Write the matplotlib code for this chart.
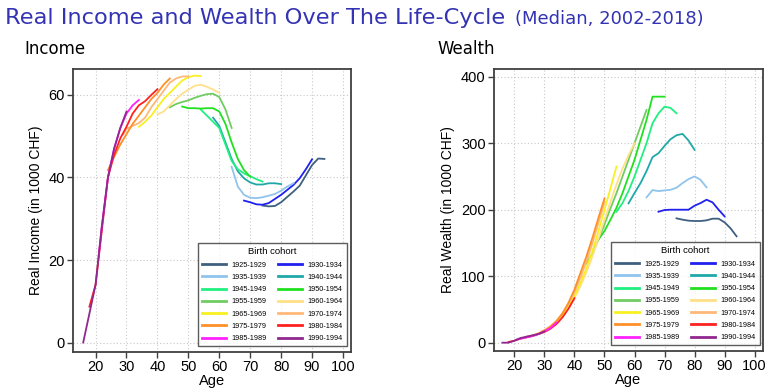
import matplotlib
matplotlib.use("Agg")
import matplotlib.pyplot as plt
from matplotlib.lines import Line2D

# ------------------------------------------------------------------ #
#  Data
# ------------------------------------------------------------------ #
cohorts = ["1925-1929", "1930-1934", "1935-1939", "1940-1944", "1945-1949",
           "1950-1954", "1955-1959", "1960-1964", "1965-1969", "1970-1974",
           "1975-1979", "1980-1984", "1985-1989", "1990-1994"]

# income (1000 CHF)
inc_1925_age = [74, 76, 78, 80, 82, 84, 86, 88, 90, 92, 94]
inc_1925 = [33.2, 33.0, 33.1, 34.0, 35.3, 36.6, 38.0, 40.5, 43.0, 44.6, 44.5]
inc_1930_age = [68, 70, 72, 74, 76, 78, 80, 82, 84, 86, 88, 90]
inc_1930 = [34.4, 34.0, 33.5, 33.4, 33.8, 34.8, 35.8, 37.0, 38.2, 39.8, 42.0, 44.4]
inc_1935_age = [64, 66, 68, 70, 72, 74, 76, 78, 80, 82, 84]
inc_1935 = [42.6, 37.8, 35.8, 35.1, 35.0, 35.2, 35.6, 36.0, 36.8, 37.8, 38.6]
inc_1940_age = [58, 60, 62, 64, 66, 68, 70, 72, 74, 76, 78, 80]
inc_1940 = [54.5, 52.5, 48.5, 44.5, 41.5, 39.8, 38.8, 38.3, 38.3, 38.6, 38.6, 38.4]
inc_1945_age = [54, 56, 58, 60, 62, 64, 66, 68, 70, 72, 74]
inc_1945 = [56.5, 55.0, 53.5, 52.0, 48.0, 44.0, 42.0, 41.0, 40.3, 39.6, 39.0]
inc_1950_age = [48, 50, 52, 54, 56, 58, 60, 62, 64, 66, 68, 70]
inc_1950 = [57.2, 56.8, 56.8, 56.7, 56.8, 56.8, 56.0, 53.0, 48.5, 44.5, 41.8, 40.2]
inc_1955_age = [44, 46, 48, 50, 52, 54, 56, 58, 60, 62, 64]
inc_1955 = [57.0, 57.8, 58.3, 58.7, 59.3, 59.8, 60.2, 60.3, 59.5, 56.5, 52.0]
inc_1960_age = [40, 42, 44, 46, 48, 50, 52, 54, 56, 58, 60]
inc_1960 = [55.3, 56.0, 57.5, 59.0, 60.3, 61.3, 62.2, 62.5, 62.0, 61.3, 60.5]
inc_1965_age = [34, 36, 38, 40, 42, 44, 46, 48, 50, 52, 54]
inc_1965 = [52.3, 53.5, 55.0, 57.0, 59.0, 60.5, 62.0, 63.5, 64.3, 64.7, 64.6]
inc_1970_age = [29, 30, 32, 34, 36, 38, 40, 42, 44, 46, 48, 50]
inc_1970 = [50.5, 51.8, 52.5, 53.2, 54.5, 57.0, 59.0, 61.0, 63.0, 64.0, 64.5, 64.5]
inc_1975_age = [24, 26, 28, 30, 32, 34, 36, 38, 40, 42, 44]
inc_1975 = [41.8, 45.0, 48.0, 50.5, 53.0, 55.0, 57.0, 59.0, 60.5, 62.5, 64.0]
inc_1980_age = [18, 20, 22, 24, 26, 28, 30, 32, 34, 36, 38, 40]
inc_1980 = [8.7, 14.0, 27.0, 40.0, 45.5, 49.5, 52.3, 55.5, 57.5, 58.5, 60.0, 61.4]
inc_1985_age = [21, 22, 24, 26, 28, 30, 32, 34]
inc_1985 = [21.0, 28.0, 40.0, 47.0, 52.0, 55.5, 57.5, 58.8]
inc_1990_age = [16, 18, 20, 21, 22, 24, 26, 28, 30]
inc_1990 = [0.0, 7.0, 14.0, 21.0, 28.0, 40.0, 47.0, 52.0, 56.0]

# wealth (1000 CHF)
wea_1925_age = [74, 76, 78, 80, 82, 84, 86, 88, 90, 92, 94]
wea_1925 = [187, 185, 183.5, 183, 183, 184, 186.5, 186.5, 181, 172, 160]
wea_1930_age = [68, 70, 72, 74, 76, 78, 80, 82, 84, 86, 88, 90]
wea_1930 = [197, 199.5, 200, 200, 200, 200, 206, 210, 215, 211, 200, 190]
wea_1935_age = [64, 66, 68, 70, 72, 74, 76, 78, 80, 82, 84]
wea_1935 = [218.5, 229.5, 228, 229, 230, 233, 240, 246, 250, 245, 233.5]
wea_1940_age = [58, 60, 62, 64, 66, 68, 70, 72, 74, 76, 78, 80]
wea_1940 = [209.5, 225, 240, 258, 279, 285, 296, 306, 312, 314, 304, 290]
wea_1945_age = [54, 56, 58, 60, 62, 64, 66, 68, 70, 72, 74]
wea_1945 = [197, 210, 228, 250, 275, 300, 330, 345, 355, 353, 345]
wea_1950_age = [48, 50, 52, 54, 56, 58, 60, 62, 64, 66, 68, 70]
wea_1950 = [155, 168, 185, 203, 225, 250, 275, 305, 335, 370, 370, 370]
wea_1955_age = [44, 46, 48, 50, 52, 54, 56, 58, 60, 62, 64]
wea_1955 = [119, 135, 155, 178, 202, 225, 250, 275, 300, 325, 350]
wea_1960_age = [38, 40, 42, 44, 46, 48, 50, 52, 54, 56, 58, 60]
wea_1960 = [52, 67, 85, 106, 130, 157, 185, 212, 238, 262, 282, 300]
wea_1965_age = [34, 36, 38, 40, 42, 44, 46, 48, 50, 52, 54]
wea_1965 = [33, 42, 54, 70, 90, 112, 138, 168, 200, 232, 265]
wea_1970_age = [29, 30, 32, 34, 36, 38, 40, 42, 44, 46, 48, 50]
wea_1970 = [17, 19, 25, 33, 44, 58, 76, 98, 122, 150, 180, 212]
wea_1975_age = [24, 26, 28, 30, 32, 34, 36, 38, 40, 42, 44, 46, 48, 50]
wea_1975 = [9, 11, 14, 18, 24, 32, 44, 60, 80, 105, 130, 158, 188, 217]
wea_1980_age = [18, 20, 22, 24, 26, 28, 30, 32, 34, 36, 38, 40]
wea_1980 = [1, 3, 6, 8, 10, 13, 16, 21, 28, 38, 51, 67]
wea_1985_age = [21, 24, 26, 28, 30, 32, 34]
wea_1985 = [5, 8, 10, 13, 17, 22, 30]
wea_1990_age = [16, 18, 20, 22, 24, 26, 28, 30]
wea_1990 = [0, 0, 3, 7, 9, 11, 13, 17]

income = [(inc_1925_age, inc_1925), (inc_1930_age, inc_1930), (inc_1935_age, inc_1935),
          (inc_1940_age, inc_1940), (inc_1945_age, inc_1945), (inc_1950_age, inc_1950),
          (inc_1955_age, inc_1955), (inc_1960_age, inc_1960), (inc_1965_age, inc_1965),
          (inc_1970_age, inc_1970), (inc_1975_age, inc_1975), (inc_1980_age, inc_1980),
          (inc_1985_age, inc_1985), (inc_1990_age, inc_1990)]
wealth = [(wea_1925_age, wea_1925), (wea_1930_age, wea_1930), (wea_1935_age, wea_1935),
          (wea_1940_age, wea_1940), (wea_1945_age, wea_1945), (wea_1950_age, wea_1950),
          (wea_1955_age, wea_1955), (wea_1960_age, wea_1960), (wea_1965_age, wea_1965),
          (wea_1970_age, wea_1970), (wea_1975_age, wea_1975), (wea_1980_age, wea_1980),
          (wea_1985_age, wea_1985), (wea_1990_age, wea_1990)]

colors = ["#3f5f7f", "#2020f0", "#90c4ec", "#20a8a8", "#20f080", "#20e020",
          "#70cc60", "#ffe088", "#f8f020", "#ffb878", "#ff9028", "#ff2020",
          "#ff20ff", "#902890"]

plt.rcParams["font.family"] = ["Liberation Sans", "DejaVu Sans"]

W, H = 780, 389
fig = plt.figure(figsize=(W / 100, H / 100), dpi=100)


def px_axes(x0, y0, x1, y1):
    return fig.add_axes([x0 / W, 1 - y1 / H, (x1 - x0) / W, (y1 - y0) / H])


def style_axes(ax, xlim, ylim, yticks, ylabel):
    ax.set_xlim(*xlim)
    ax.set_ylim(*ylim)
    ax.set_xticks(range(20, 101, 10))
    ax.set_yticks(yticks)
    ax.grid(True, color="#c8c8c8", linestyle=(0, (1, 2)), linewidth=0.8)
    ax.set_axisbelow(True)
    for s in ax.spines.values():
        s.set_color("#404040")
        s.set_linewidth(1.3)
    ax.tick_params(direction="out", length=4, width=1, color="#404040",
                   labelsize=10.5, pad=2)
    ax.set_xlabel("Age", fontsize=10.5, labelpad=0)
    ax.set_ylabel(ylabel, fontsize=10, labelpad=4)


def add_legend(ax, anchor):
    # legend is filled row by row in the reference: reorder for matplotlib
    order = list(range(0, 14, 2)) + list(range(1, 14, 2))
    handles = [Line2D([], [], color=colors[i], lw=2) for i in order]
    labels = [cohorts[i] for i in order]
    leg = ax.legend(handles, labels, ncol=2, loc="lower right",
                    bbox_to_anchor=anchor, title="Birth cohort",
                    fontsize=5.2, title_fontsize=6.8, frameon=True,
                    fancybox=False, edgecolor="#333333", handlelength=3.3,
                    columnspacing=1.6, labelspacing=0.72, borderpad=0.55,
                    handletextpad=0.8, borderaxespad=0)
    leg.get_frame().set_linewidth(1.0)


# Income panel
ax1 = px_axes(73, 69, 351, 352)
for (age, val), c in zip(income, colors):
    ax1.plot(age, val, color=c, lw=1.3)
style_axes(ax1, (12.7, 102.6), (-2.3, 66.3), [0, 20, 40, 60],
           "Real Income (in 1000 CHF)")
add_legend(ax1, (0.986, 0.021))

# Wealth panel
ax2 = px_axes(494, 69, 763, 351)
for (age, val), c in zip(wealth, colors):
    ax2.plot(age, val, color=c, lw=1.3)
style_axes(ax2, (13.2, 102.8), (-12.5, 411.6), [0, 100, 200, 300, 400],
           "Real Wealth (in 1000 CHF)")
add_legend(ax2, (0.989, 0.021))

# Titles
title_col = "#3333b3"
fig.text(5 / W, 1 - 18 / H, "Real Income and Wealth Over The Life-Cycle",
         color=title_col, fontsize=16.2, va="center", ha="left",
         family="DejaVu Sans")
fig.text(515 / W, 1 - 19 / H, "(Median, 2002-2018)", color=title_col,
         fontsize=13.0, va="center", ha="left", family="DejaVu Sans")
fig.text(24 / W, 1 - 49 / H, "Income", fontsize=12, va="center", ha="left",
         family="DejaVu Sans")
fig.text(437 / W, 1 - 49 / H, "Wealth", fontsize=12, va="center", ha="left",
         family="DejaVu Sans")

fig.savefig("out.png", dpi=100)
